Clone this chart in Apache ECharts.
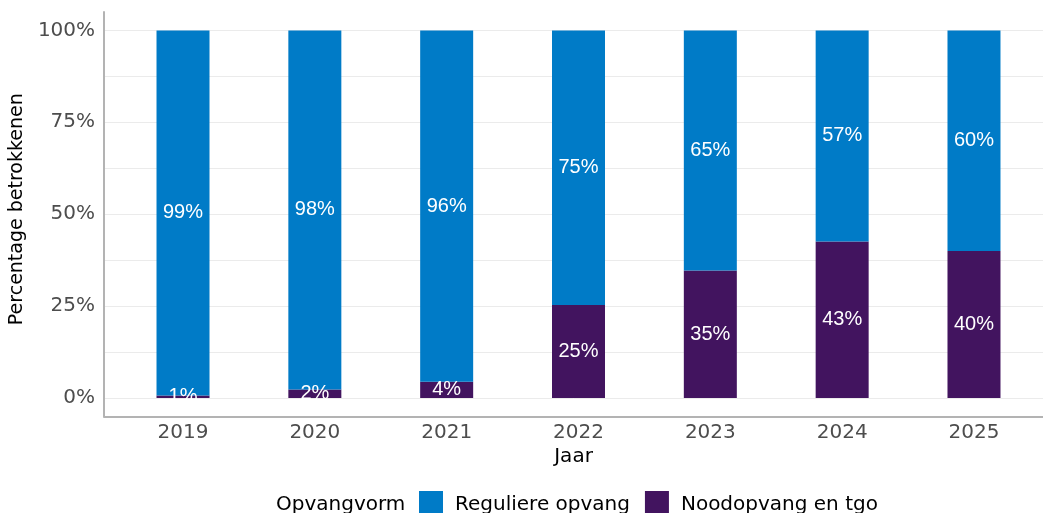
<!DOCTYPE html>
<html>
<head>
<meta charset="utf-8">
<script src="https://cdn.jsdelivr.net/npm/echarts@6/dist/echarts.min.js"></script>
<style>
html,body{margin:0;padding:0;background:#fff;}
#chart{width:1043px;height:513px;}
</style>
</head>
<body>
<div id="chart"></div>
<script>
const years = ['2019', '2020', '2021', '2022', '2023', '2024', '2025'];
const noodopvang = [0.7, 2.3, 4.4, 25.3, 34.7, 42.6, 40.0];
const regulier = [99.3, 97.7, 95.6, 74.7, 65.3, 57.4, 60.0];
const yTickLabels = [0, 25, 50, 75, 100];
const yGridValues = [0, 12.5, 25, 37.5, 50, 62.5, 75, 87.5, 100];
const seriesNames = ['Reguliere opvang', 'Noodopvang en tgo'];
const legendTitle = 'Opvangvorm';

const FONT = '"DejaVu Sans", Verdana, sans-serif';

const labelCfg = {
  show: true,
  position: 'inside',
  color: '#ffffff',
  fontFamily: '"Liberation Sans", Arial, sans-serif',
  fontSize: 20,
  formatter: p => Math.round(p.value) + '%'
};

const chart = echarts.init(document.getElementById('chart'), null, {renderer: 'canvas'});
chart.setOption({
  backgroundColor: '#ffffff',
  animation: false,
  grid: [
    {left: 117.1, right: 3.1, top: 12, bottom: 96.6, containLabel: false, z: 2},
    {left: 104, right: 0, top: 12, bottom: 96.6, containLabel: false, z: 0}
  ],
  xAxis: [
    {
      gridIndex: 0,
      type: 'category',
      data: years,
      boundaryGap: true,
      axisLine: {show: false},
      axisTick: {show: false},
      splitLine: {show: false},
      axisLabel: {color: '#4d4d4d', fontSize: 20, fontFamily: FONT, margin: 6}
    },
    {
      gridIndex: 1,
      type: 'value',
      min: 0,
      max: 1,
      name: 'Jaar',
      nameLocation: 'middle',
      nameGap: 30,
      nameTextStyle: {color: '#000', fontSize: 20, fontFamily: FONT},
      axisLine: {show: true, onZero: false, lineStyle: {color: '#b3b3b3', width: 2}},
      axisTick: {show: false},
      splitLine: {show: false},
      axisLabel: {show: false}
    }
  ],
  yAxis: [
    {
      gridIndex: 0,
      type: 'value',
      min: -5,
      max: 105,
      show: false
    },
    {
      gridIndex: 1,
      type: 'value',
      min: -5,
      max: 105,
      name: 'Percentage betrokkenen',
      nameLocation: 'middle',
      nameRotate: 90,
      nameGap: 63,
      nameTextStyle: {color: '#000', fontSize: 19, fontFamily: FONT, padding: [0, 0, 0, 10]},
      axisLine: {show: true, onZero: false, lineStyle: {color: '#b3b3b3', width: 2}},
      axisTick: {show: false, customValues: yGridValues},
      splitLine: {show: true, lineStyle: {color: '#ebebeb', width: 1}},
      axisLabel: {
        customValues: yTickLabels,
        color: '#4d4d4d', fontSize: 20, fontFamily: FONT, margin: 9,
        formatter: v => v + '%'
      }
    }
  ],
  legend: {
    data: seriesNames,
    left: 414,
    top: 486,
    itemWidth: 24,
    itemHeight: 24,
    itemGap: 15,
    icon: 'rect',
    formatter: name => '{t|' + name + '}',
    textStyle: {
      color: '#000', fontSize: 20, fontFamily: FONT,
      rich: {t: {color: '#000', fontSize: 20, fontFamily: FONT, padding: [4, 0, 0, 7]}}
    }
  },
  graphic: [{
    type: 'text',
    x: 276,
    y: 505,
    style: {text: legendTitle, fill: '#000', fontSize: 20, fontFamily: FONT, verticalAlign: 'middle', align: 'left'}
  }],
  series: [
    {
      name: seriesNames[1],
      type: 'bar',
      xAxisIndex: 0,
      yAxisIndex: 0,
      stack: 'total',
      barWidth: 53,
      itemStyle: {color: '#42145F'},
      label: labelCfg,
      data: noodopvang
    },
    {
      name: seriesNames[0],
      type: 'bar',
      xAxisIndex: 0,
      yAxisIndex: 0,
      stack: 'total',
      barWidth: 53,
      itemStyle: {color: '#007BC7'},
      label: labelCfg,
      data: regulier
    }
  ]
});
</script>
</body>
</html>
